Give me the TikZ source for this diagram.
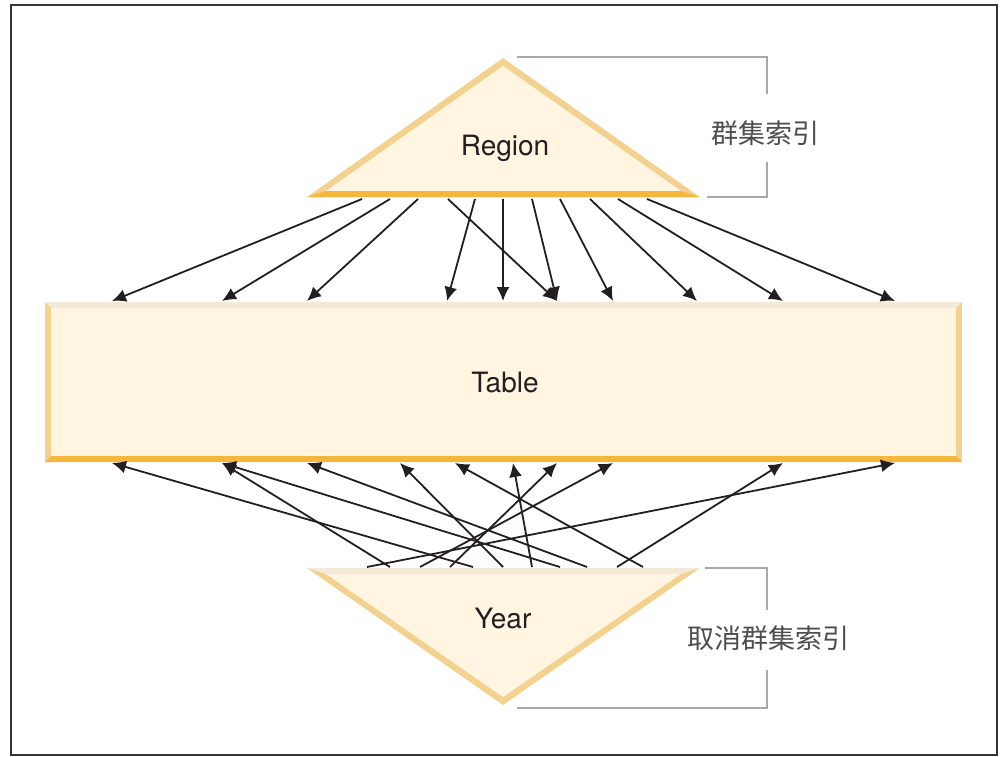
\documentclass[tikz,border=0pt]{standalone}
\usepackage{fontspec}
\setmainfont{TeX Gyre Heros}
\newfontfamily\cjk{Noto Sans CJK SC}
\usetikzlibrary{arrows.meta}
\definecolor{encre}{HTML}{231F20}
\definecolor{creme}{HTML}{FFF5E1}
\definecolor{flanc}{HTML}{F3D28F}
\definecolor{socle}{HTML}{F4B63F}
\definecolor{beige}{HTML}{F3E9D7}
\definecolor{grisB}{HTML}{A7A9AC}
\tikzset{
  fleche/.style={-{Latex[length=14pt,width=13pt]}, line width=1.8pt, draw=encre},
  accolade/.style={draw=grisB, line width=1.6pt},
  etiq/.style={font=\fontsize{28}{31}\selectfont, text=encre},
  note/.style={font=\cjk\fontsize{27}{30}\selectfont, text=encre!80},
}
\begin{document}
\begin{tikzpicture}[x=1pt, y=-1pt]
  \useasboundingbox (0,0) rectangle (1001,757);
  \draw[line width=2pt, draw=encre!90] (11,5) rectangle (997,755);

  % Region
  \fill[flanc] (307,197) -- (503,58) -- (700,197) -- cycle;
  \fill[creme] (326,191) -- (503,66) -- (681,191) -- cycle;
  \fill[socle] (307,197) -- (700,197) -- (681,191) -- (326,191) -- cycle;
  \node[etiq] (reg) at (505,148) {Region};

  % Table
  \fill[flanc] (45,302) rectangle (962,462);
  \fill[beige] (45,302) -- (962,302) -- (956,308) -- (51,308) -- cycle;
  \fill[socle] (45,462) -- (962,462) -- (956,456) -- (51,456) -- cycle;
  \fill[creme] (51,308) rectangle (956,456);
  \node[etiq] (tab) at (505,383) {Table};

  % Year
  \fill[flanc] (307,568) -- (700,568) -- (503,705) -- cycle;
  \fill[creme] (326,574) -- (681,574) -- (503,697) -- cycle;
  \fill[beige] (307,568) -- (700,568) -- (681,574) -- (326,574) -- cycle;
  \node[etiq] (an) at (503,618) {Year};

  \draw[accolade] (517,57) -- (767,57) -- (767,94);
  \draw[accolade] (767,162) -- (767,197) -- (707,197);
  \node[note] (grp) at (765,133) {群集索引};
  \draw[accolade] (705,568) -- (767,568) -- (767,610);
  \draw[accolade] (767,670) -- (767,708) -- (517,708);
  \node[note] (ngrp) at (768,638) {取消群集索引};

  \foreach \x [count=\i] in {362,390,418,448,475,503,532,560,590,618,647}
    \coordinate (r\i) at (\x,199);
  \foreach \x [count=\i] in {112,222,307,447,503,557,613,697,783,895}
    \coordinate (h\i) at (\x,301);
  \foreach \x [count=\i] in {112,222,307,400,455,513,557,613,783,895}
    \coordinate (b\i) at (\x,463);
  \foreach \x [count=\i] in {367,390,420,450,473,503,532,560,587,617,643}
    \coordinate (y\i) at (\x,567);

  \foreach \s/\t in {1/1,2/2,3/3,4/6,5/4,6/5,7/6,8/7,9/8,10/9,11/10}
    \draw[fleche] (r\s) -- (h\t);
  \foreach \s/\t in {1/10,2/2,3/8,4/7,5/1,6/4,7/6,8/2,9/3,10/9,11/5}
    \draw[fleche] (y\s) -- (b\t);
\end{tikzpicture}
\end{document}
